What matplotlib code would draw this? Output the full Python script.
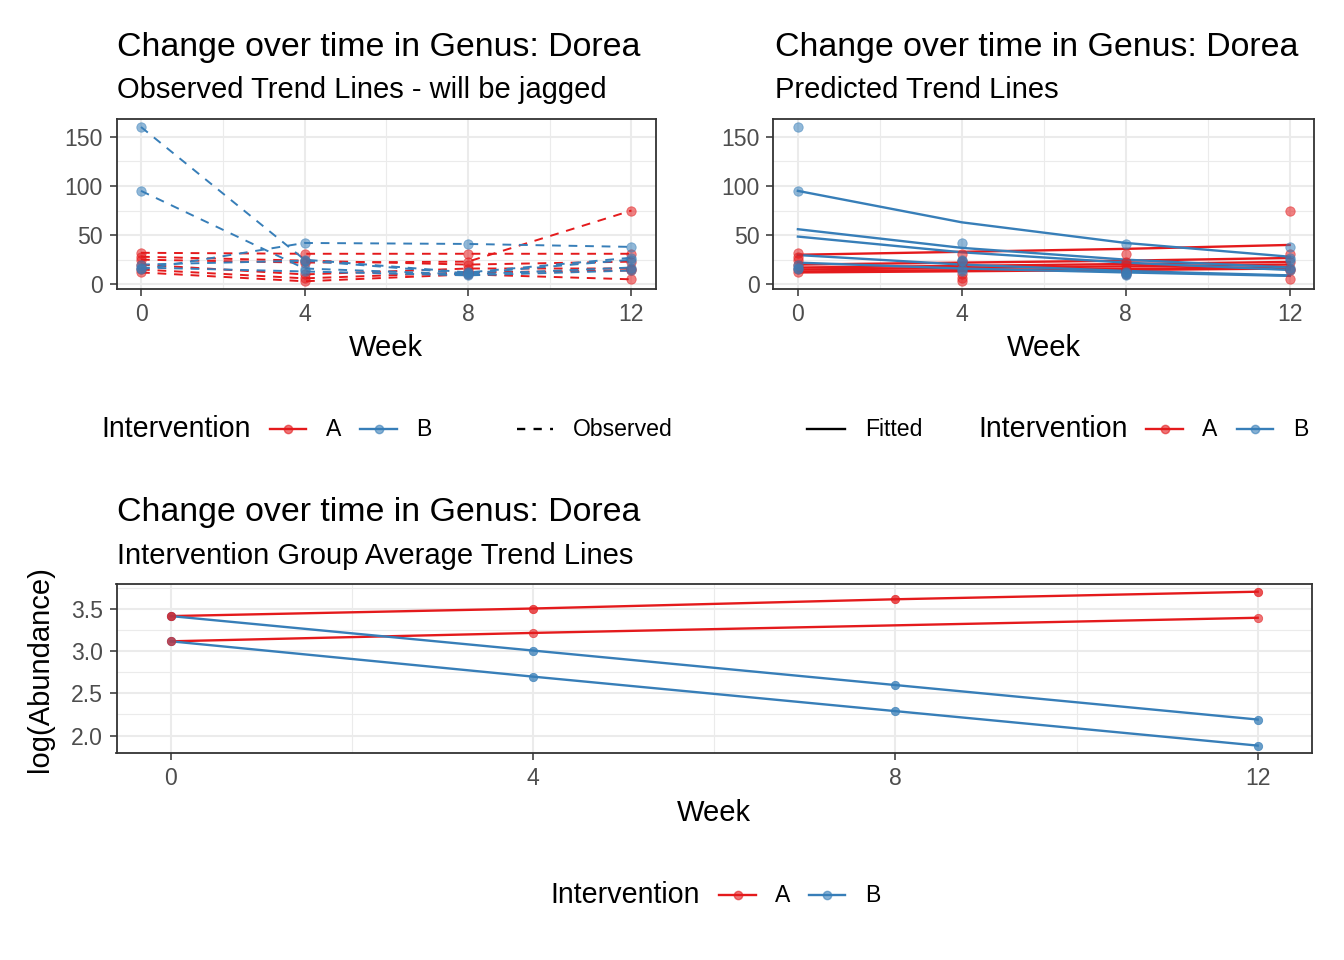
import matplotlib
matplotlib.use('Agg')
import matplotlib.pyplot as plt
from matplotlib.lines import Line2D
import numpy as np

plt.rcParams['font.family'] = ['Liberation Sans', 'DejaVu Sans']

# ---------------- data ----------------
weeks = [0, 4, 8, 12]
groups = ['A', 'B']

# observed abundance per subject (weeks 0, 4, 8, 12)
obs_A1 = [25, 22, 23, 75]
obs_A2 = [32, 31, 31, 31]
obs_A3 = [28, 24, 20, 23]
obs_A4 = [20, 10, 16, 16]
obs_A5 = [15, 6, 12, 14]
obs_A6 = [12, 3, 10, 5]
obs_B1 = [160, 25, 12, 27]
obs_B2 = [95, 16, 10, 17]
obs_B3 = [15, 42, 41, 38]
obs_B4 = [20, 24, 11, 25]
obs_B5 = [17, 13, 9, 14]

# fitted abundance per subject
fit_A1 = [30, 33, 36, 40]
fit_A2 = [20, 22, 24, 26.7]
fit_A3 = [17, 18.7, 20.6, 22.7]
fit_A4 = [15, 16.5, 18.2, 20]
fit_A5 = [13, 14.3, 15.7, 17.4]
fit_A6 = [12, 13.2, 14.5, 16]
fit_B1 = [95, 63, 42, 28]
fit_B2 = [56, 37, 25, 17]
fit_B3 = [48.5, 32.5, 22, 14.5]
fit_B4 = [29.7, 20, 13.5, 9]
fit_B5 = [22, 16, 12, 8.5]

# group average trend lines, log(Abundance)
avg_A_hi = [3.42, 3.51, 3.62, 3.71]
avg_A_lo = [3.12, 3.22, 3.31, 3.40]
avg_B_hi = [3.42, 3.01, 2.60, 2.19]
avg_B_lo = [3.12, 2.70, 2.29, 1.88]
pts_A_lo = [3.12, 3.22, np.nan, 3.40]

obs = {'A': [obs_A1, obs_A2, obs_A3, obs_A4, obs_A5, obs_A6],
       'B': [obs_B1, obs_B2, obs_B3, obs_B4, obs_B5]}
fit = {'A': [fit_A1, fit_A2, fit_A3, fit_A4, fit_A5, fit_A6],
       'B': [fit_B1, fit_B2, fit_B3, fit_B4, fit_B5]}

RED = '#E41A1C'
BLUE = '#377EB8'
col = {'A': RED, 'B': BLUE}

W, H = 1344, 960
fig = plt.figure(figsize=(W / 100, H / 100), dpi=100)

def rect(l, t, r, b):
    return [l / W, 1 - b / H, (r - l) / W, (b - t) / H]

def fx(x):
    return x / W

def fy(y):
    return 1 - y / H

TITLE = 24.4
SUB = 21
TICK = 16.6
AXT = 21
LEGT = 20.6
LEGL = 16.6
GRID = '#EBEBEB'
DARK = '#333333'

def style(ax, xt, xminor, yt, yminor):
    ax.set_xticks(xt)
    ax.set_xticks(xminor, minor=True)
    ax.set_yticks(yt)
    ax.set_yticks(yminor, minor=True)
    ax.grid(True, which='major', color=GRID, lw=1.5, zorder=0)
    ax.grid(True, which='minor', color=GRID, lw=0.8, zorder=0)
    ax.set_axisbelow(True)
    for s in ax.spines.values():
        s.set_color(DARK)
        s.set_linewidth(1.3)
    ax.tick_params(which='major', length=5, width=1.1, color=DARK,
                   labelsize=TICK, labelcolor='#4D4D4D', pad=5)
    ax.tick_params(which='minor', length=0)
    ax.margins(x=0.05, y=0.05)

# ---------------- top-left ----------------
ax1 = fig.add_axes(rect(116.5, 119.3, 656, 289))
for g in groups:
    for s in obs[g]:
        ax1.plot(weeks, s, color=col[g], lw=1.4, ls=(0, (4.5, 4)), zorder=2)
    for s in obs[g]:
        ax1.scatter(weeks, s, s=46, color=col[g], alpha=0.55, lw=0.6,
                    edgecolors=col[g], zorder=3)
style(ax1, weeks, [2, 6, 10], [0, 50, 100, 150], [25, 75, 125])
ax1.set_xlabel('Week', fontsize=AXT, labelpad=6)

# ---------------- top-right ----------------
ax2 = fig.add_axes(rect(773.3, 119.3, 1314.3, 289))
for g in groups:
    for s in fit[g]:
        ax2.plot(weeks, s, color=col[g], lw=1.7, zorder=2)
    for s in obs[g]:
        ax2.scatter(weeks, s, s=46, color=col[g], alpha=0.55, lw=0.6,
                    edgecolors=col[g], zorder=3)
style(ax2, weeks, [2, 6, 10], [0, 50, 100, 150], [25, 75, 125])
ax2.set_xlabel('Week', fontsize=AXT, labelpad=6)

# ---------------- bottom ----------------
ax3 = fig.add_axes(rect(116.5, 584, 1312, 753.3))
ax3.plot(weeks, avg_A_hi, color=RED, lw=1.7, zorder=2)
ax3.plot(weeks, avg_A_lo, color=RED, lw=1.7, zorder=2)
ax3.plot(weeks, avg_B_hi, color=BLUE, lw=1.7, zorder=2)
ax3.plot(weeks, avg_B_lo, color=BLUE, lw=1.7, zorder=2)
ax3.scatter(weeks, avg_B_hi, s=36, color=BLUE, alpha=0.75, lw=0.6, edgecolors=BLUE, zorder=3)
ax3.scatter(weeks, avg_B_lo, s=36, color=BLUE, alpha=0.75, lw=0.6, edgecolors=BLUE, zorder=3)
ax3.scatter(weeks, avg_A_hi, s=36, color=RED, alpha=0.75, lw=0.6, edgecolors=RED, zorder=3)
ax3.scatter(weeks, pts_A_lo, s=36, color=RED, alpha=0.6, lw=0.6, edgecolors=RED, zorder=3)
style(ax3, weeks, [2, 6, 10], [2.0, 2.5, 3.0, 3.5], [2.25, 2.75, 3.25, 3.75])
ax3.set_xlabel('Week', fontsize=AXT, labelpad=6)
ax3.set_ylabel('log(Abundance)', fontsize=AXT, labelpad=12)

# ---------------- titles ----------------
def titles(xpix, ybase_t, ybase_s, sub):
    fig.text(fx(xpix), fy(ybase_t), 'Change over time in Genus: Dorea',
             fontsize=TITLE, va='baseline', ha='left')
    fig.text(fx(xpix), fy(ybase_s), sub, fontsize=SUB, va='baseline', ha='left')

titles(117, 56, 98, 'Observed Trend Lines - will be jagged')
titles(775, 56, 98, 'Predicted Trend Lines')
titles(117, 521, 564, 'Intervention Group Average Trend Lines')

# ---------------- legends ----------------
def key(x0, x1, y, color, ls='-', marker=True):
    fig.add_artist(Line2D([fx(x0), fx(x1)], [fy(y), fy(y)], color=color, lw=1.7,
                          ls=ls, transform=fig.transFigure))
    if marker:
        fig.add_artist(Line2D([fx((x0 + x1) / 2)], [fy(y)], color=color, marker='o',
                              ms=6, alpha=0.6, lw=0, transform=fig.transFigure))

def ltext(x, y, s, size):
    fig.text(fx(x), fy(y), s, fontsize=size, va='center', ha='left')

# top-left legend
ly = 429
ltext(101, ly, 'Intervention', LEGT)
key(270, 306, ly, RED)
ltext(326, ly, 'A', LEGL)
key(360, 397, ly, BLUE)
ltext(416, ly, 'B', LEGL)
key(517, 553, ly, 'black', ls=(0, (3.5, 3.5)), marker=False)
ltext(573, ly, 'Observed', LEGL)

# top-right legend
key(807, 845, ly, 'black', marker=False)
ltext(865, ly, 'Fitted', LEGL)
ltext(978, ly, 'Intervention', LEGT)
key(1146, 1183, ly, RED)
ltext(1202, ly, 'A', LEGL)
key(1237, 1273, ly, BLUE)
ltext(1293, ly, 'B', LEGL)

# bottom legend
by = 895
ltext(550, by, 'Intervention', LEGT)
key(719, 756, by, RED)
ltext(775, by, 'A', LEGL)
key(809, 845, by, BLUE)
ltext(865, by, 'B', LEGL)

fig.savefig('out.png', dpi=100, facecolor='white')
